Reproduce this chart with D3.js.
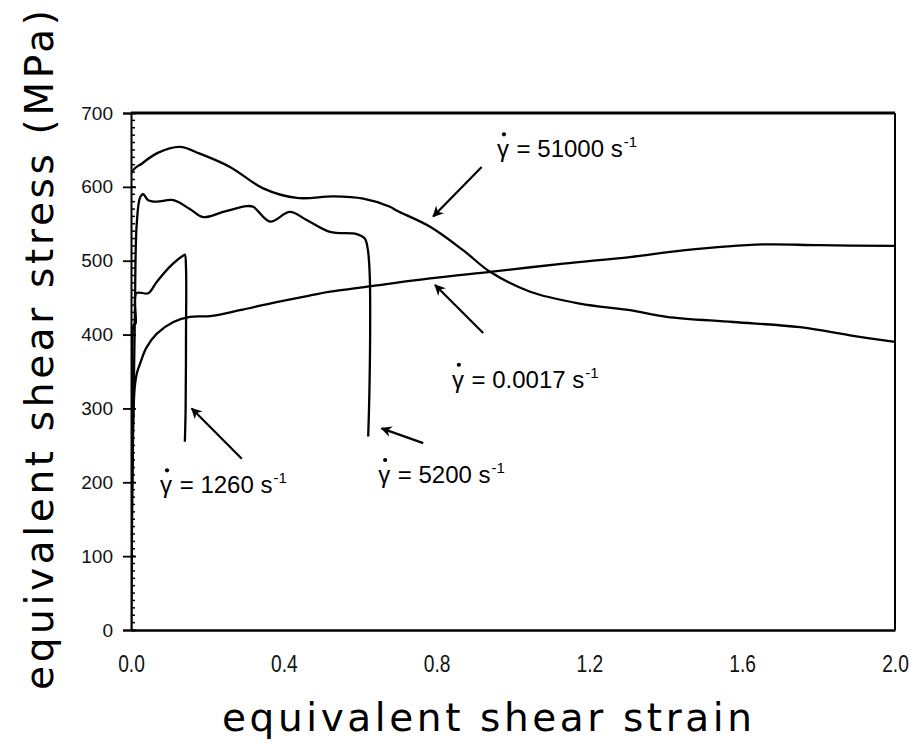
<!DOCTYPE html>
<html>
<head>
<meta charset="utf-8">
<script src="https://cdn.jsdelivr.net/npm/d3@7"></script>
<style>
  html, body { margin: 0; padding: 0; background: #fff; }
  svg { display: block; }
</style>
</head>
<body>
<svg id="chart" width="911" height="743"></svg>
<script>
// Axis ticks
const strainTicks = [0.0, 0.4, 0.8, 1.2, 1.6, 2.0];
const stressTicks = [0, 100, 200, 300, 400, 500, 600, 700];

// Stress–strain curves: [equivalent shear strain, equivalent shear stress (MPa)]
const curve51000 = [
  [0, 0], [0, 618], [0.03, 632], [0.07, 646], [0.128, 654], [0.18, 645],
  [0.259, 627], [0.346, 598], [0.434, 585], [0.53, 587], [0.608, 584],
  [0.678, 573], [0.695, 568], [0.783, 546], [0.87, 514], [0.94, 485],
  [1.045, 458], [1.175, 442], [1.306, 433], [1.402, 424], [1.576, 417],
  [1.751, 410], [1.882, 399], [2.0, 390]
];
const curve5200 = [
  [0, 0], [0.005, 250], [0.01, 420], [0.015, 550], [0.024, 586], [0.032, 590],
  [0.045, 582], [0.067, 580], [0.111, 582], [0.154, 570], [0.189, 559],
  [0.241, 566], [0.303, 574], [0.32, 573], [0.364, 553], [0.416, 566],
  [0.46, 555], [0.521, 539], [0.591, 536], [0.612, 530], [0.62, 515],
  [0.625, 480], [0.626, 400], [0.624, 320], [0.621, 262]
];
const curve1260 = [
  [0, 0], [0.004, 300], [0.007, 413], [0.012, 415], [0.014, 456], [0.045, 456],
  [0.067, 471], [0.102, 492], [0.137, 507], [0.141, 508], [0.144, 490],
  [0.144, 400], [0.143, 300], [0.141, 255]
];
const curve00017 = [
  [0, 0], [0.003, 220], [0.006, 290], [0.01, 330], [0.015, 347], [0.024, 361],
  [0.04, 382], [0.067, 401], [0.111, 417], [0.154, 424], [0.207, 425],
  [0.285, 433], [0.381, 444], [0.469, 453], [0.521, 458], [0.65, 467],
  [0.783, 476], [0.94, 485], [1.132, 496], [1.306, 505], [1.445, 514],
  [1.654, 522], [1.8, 521], [2.0, 520]
];

// Rate labels: text anchor and arrow (tail -> head), in data units
const rateLabels = ["51000", "0.0017", "5200", "1260"];
const labelAt   = [[0.958, 640], [0.840, 328], [0.647, 199], [0.076, 185]];
const arrowFrom = [[0.918, 627], [0.922, 402], [0.765, 253], [0.290, 232]];
const arrowTo   = [[0.791, 560], [0.796, 467], [0.656, 273], [0.159, 300]];

const svg = d3.select("#chart");
const plotLeft = 131, plotRight = 895, plotTop = 113, plotBottom = 630;

const x = d3.scaleLinear().domain([0, 2]).range([plotLeft, plotRight]);
const y = d3.scaleLinear().domain([0, 700]).range([plotBottom, plotTop]);

const defs = svg.append("defs");
defs.append("clipPath").attr("id", "plot-clip")
  .append("rect")
  .attr("x", x(0)).attr("y", y(700))
  .attr("width", x(2) - x(0) + 2).attr("height", y(0) - y(700));

// Frame: top and right edges
svg.append("line").attr("x1", plotLeft).attr("x2", plotRight).attr("y1", plotTop).attr("y2", plotTop)
  .attr("stroke", "#000").attr("stroke-width", 3);
svg.append("line").attr("x1", plotRight).attr("x2", plotRight).attr("y1", plotTop).attr("y2", plotBottom)
  .attr("stroke", "#000").attr("stroke-width", 2);

// Minor ticks inside the left axis every 10 MPa
svg.append("g").selectAll("line")
  .data(d3.range(0, 701, 10))
  .join("line")
  .attr("x1", plotLeft).attr("x2", plotLeft + 4)
  .attr("y1", d => y(d)).attr("y2", d => y(d))
  .attr("stroke", "#000").attr("stroke-width", 1.5);

// Y axis
const yAxis = svg.append("g")
  .attr("transform", `translate(${plotLeft},0)`)
  .call(d3.axisLeft(y).tickValues(stressTicks).tickSize(8).tickPadding(10).tickFormat(d3.format("d")));
yAxis.select(".domain").attr("stroke-width", 2);
yAxis.selectAll(".tick line").attr("stroke-width", 1.8).attr("x2", -8).attr("x1", 5);
yAxis.selectAll(".tick text")
  .attr("font-family", "'Liberation Sans', Arial, sans-serif")
  .attr("font-size", 19).attr("fill", "#111");

// X axis
const xAxis = svg.append("g")
  .attr("transform", `translate(0,${plotBottom})`)
  .call(d3.axisBottom(x).tickValues(strainTicks).tickSize(0).tickFormat(d3.format(".1f")));
xAxis.select(".domain").attr("stroke-width", 2.5);
xAxis.selectAll(".tick text")
  .attr("font-family", "'Liberation Sans', Arial, sans-serif")
  .attr("font-size", 24).attr("fill", "#111")
  .attr("transform", "scale(0.8,1)")
  .attr("y", 42).attr("dy", 0);

// Curves
const line = d3.line()
  .x(d => x(d[0])).y(d => y(d[1]))
  .curve(d3.curveCatmullRom.alpha(0.5));
const series = [curve51000, curve5200, curve1260, curve00017];
svg.append("g")
  .attr("clip-path", "url(#plot-clip)")
  .selectAll("path")
  .data(series)
  .join("path")
  .attr("d", line)
  .attr("fill", "none")
  .attr("stroke", "#000")
  .attr("stroke-width", 2.3)
  .attr("stroke-linejoin", "round");

// Arrowhead
defs.append("marker")
  .attr("id", "head")
  .attr("viewBox", "0 0 10 10")
  .attr("refX", 9).attr("refY", 5)
  .attr("markerWidth", 6).attr("markerHeight", 5)
  .attr("markerUnits", "strokeWidth")
  .attr("orient", "auto")
  .append("path").attr("d", "M0,0 L10,5 L0,10 L3,5 Z").attr("fill", "#000");

svg.append("g").selectAll("line")
  .data(rateLabels.map((r, i) => ({ from: arrowFrom[i], to: arrowTo[i] })))
  .join("line")
  .attr("x1", d => x(d.from[0])).attr("y1", d => y(d.from[1]))
  .attr("x2", d => x(d.to[0])).attr("y2", d => y(d.to[1]))
  .attr("stroke", "#000").attr("stroke-width", 2.2)
  .attr("marker-end", "url(#head)");

// Rate labels: γ̇ = N s⁻¹
const labels = svg.append("g")
  .attr("font-family", "'Liberation Sans', Arial, sans-serif")
  .attr("font-size", 24).attr("fill", "#000");

rateLabels.forEach((r, i) => {
  const t = labels.append("text")
    .attr("x", x(labelAt[i][0])).attr("y", y(labelAt[i][1]));
  const g = t.append("tspan").text("γ");
  t.append("tspan").text(" = " + r + " s").attr("dx", 1);
  t.append("tspan").text("-1").attr("font-size", 15).attr("dx", 1).attr("dy", -10);
  const bb = g.node().getBBox();
  labels.append("circle")
    .attr("cx", bb.x + bb.width / 2 + 1)
    .attr("cy", y(labelAt[i][1]) - 23)
    .attr("r", 2.1);
});

// Axis titles
svg.append("text")
  .attr("x", 222).attr("y", 731)
  .attr("font-family", "'DejaVu Sans', Verdana, sans-serif")
  .attr("font-size", 39)
  .attr("textLength", 530).attr("lengthAdjust", "spacing")
  .attr("fill", "#000")
  .text("equivalent shear strain");

svg.append("text")
  .attr("transform", "translate(53,690) rotate(-90)")
  .attr("font-family", "'DejaVu Sans', Verdana, sans-serif")
  .attr("font-size", 39)
  .attr("textLength", 680).attr("lengthAdjust", "spacing")
  .attr("fill", "#000")
  .text("equivalent shear stress (MPa)");
</script>
</body>
</html>
